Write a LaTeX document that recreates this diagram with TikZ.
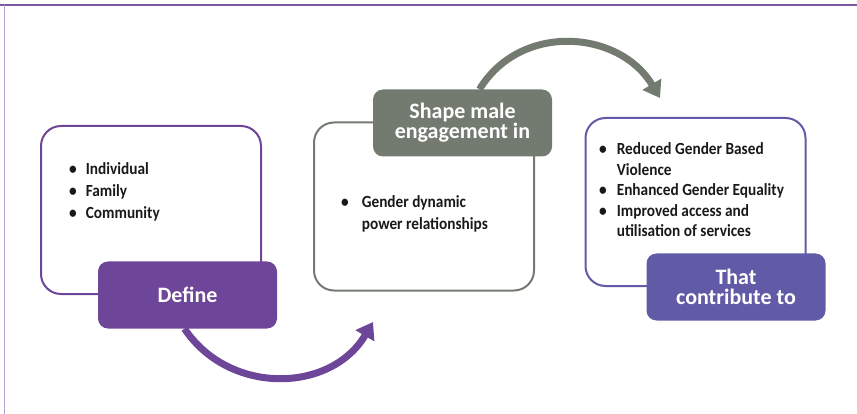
\documentclass[tikz,border=0pt]{standalone}
\usepackage{fontspec}
\setmainfont{Carlito}
\newfontfamily\listfont[FakeStretch=0.9]{Carlito}
\usetikzlibrary{positioning, arrows.meta}

\definecolor{defpurple}{HTML}{6E4699}
\definecolor{shapegray}{HTML}{737B71}
\definecolor{contribblue}{HTML}{615AA6}
\definecolor{framelight}{HTML}{B7A3CF}

\tikzset{
outer/.style={draw, line width=2pt, rounded corners=20pt, minimum width=220pt, minimum height=168pt},
label/.style={rounded corners=10pt, minimum width=179pt, minimum height=67pt, text=white, align=center,
  font=\bfseries\fontsize{22}{20}\selectfont},
items/.style={anchor=base west, inner sep=0pt, text=black!90},
bend arrow/.style={line width=7pt, -{Triangle[length=16pt,width=21pt]}},
}

\begin{document}
\begin{tikzpicture}[x=1pt, y=-1pt]
    \useasboundingbox (0,0) rectangle (857,414);

    %frame lines
    \coordinate (fa) at (0,5);
    \coordinate (fb) at (4.5,5);
    \coordinate (fc) at (857,5);
    \coordinate (fd) at (4.5,414);
    \draw[defpurple!90, line width=1.5pt] (fa)--(fc);
    \draw[framelight, line width=1.5pt] (fb)--(fd);

    %outer boxes
    \node[outer, draw=defpurple]     (box1) at (151,210) { };
    \node[outer, draw=shapegray]     (box2) at (424,206.5) { };
    \node[outer, draw=contribblue]   (box3) at (695.5,202) { };

    %labels on top
    \node[label, fill=defpurple]     (define)  at (187.5,295) {Define};
    \node[label, fill=shapegray]     (shape)   at (462.5,123) {Shape male\\engagement in};
    \node[label, fill=contribblue]   (contrib) at (736,287)   {That\\contribute to};

    %bullet lists
    \node[items] (list1) at (69,175) {\listfont\bfseries\fontsize{17}{22}\selectfont
      \begin{tabular}[t]{@{}l@{\hspace{9pt}}l@{}}
      \textbullet & Individual\\
      \textbullet & Family\\
      \textbullet & Community
      \end{tabular}};
    \node[items] (list2) at (341,208) {\listfont\bfseries\fontsize{17}{21}\selectfont
      \begin{tabular}[t]{@{}l@{\hspace{13pt}}l@{}}
      \textbullet & Gender dynamic\\
                  & power relationships
      \end{tabular}};
    \node[items] (list3) at (599,155) {\listfont\bfseries\fontsize{17}{20.5}\selectfont
      \begin{tabular}[t]{@{}l@{\hspace{10pt}}l@{}}
      \textbullet & Reduced Gender Based\\
                  & Violence\\
      \textbullet & Enhanced Gender Equality\\
      \textbullet & Improved access and\\
                  & utilisation of services
      \end{tabular}};

    %curved arrows
    \coordinate (tip1) at (373,322);
    \coordinate (tip2) at (660,98);
    \draw[bend arrow, defpurple] ([xshift=-3pt]define.south) .. controls (229.5,395.7) and (331,393) .. (tip1);
    \draw[bend arrow, shapegray] ([xshift=17pt]shape.north) .. controls (520.6,22) and (619.4,30) .. (tip2);

\end{tikzpicture}
\end{document}
